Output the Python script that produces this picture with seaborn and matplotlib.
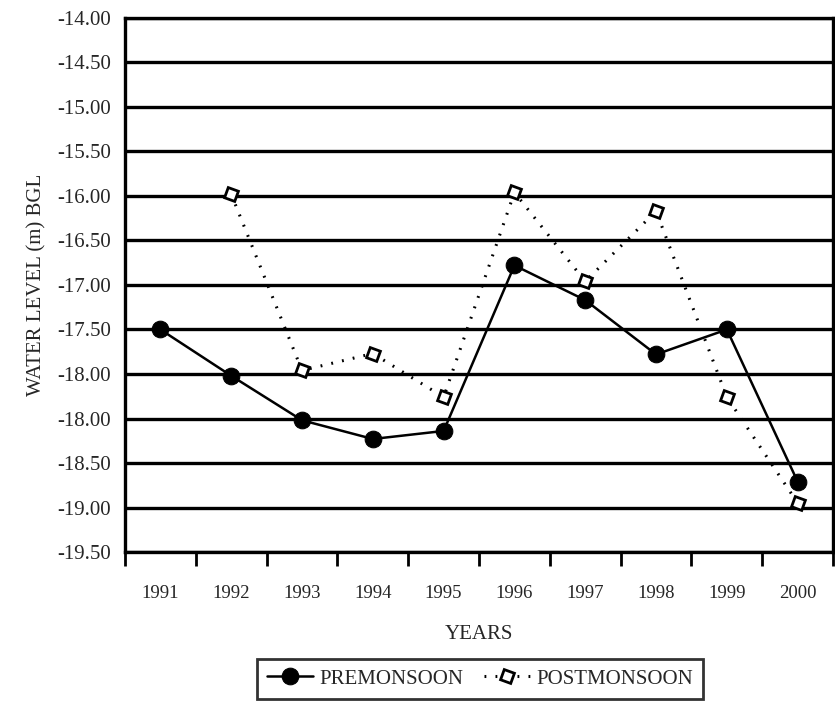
import numpy as np
import pandas as pd
import seaborn as sns
import matplotlib.pyplot as plt

# values (linear scale, -14 at top, -20 at the bottom axis line)
years = [1991, 1992, 1993, 1994, 1995, 1996, 1997, 1998, 1999, 2000]
premonsoon = [-17.50, -18.02, -18.52, -18.73, -18.64, -16.78, -17.17, -17.78, -17.50, -19.21]
postmonsoon = [np.nan, -15.98, -17.96, -17.77, -18.26, -15.96, -16.96, -16.17, -18.26, -19.45]

# printed tick labels (the original repeats -18.00)
ytick_pos = [-14.0, -14.5, -15.0, -15.5, -16.0, -16.5, -17.0, -17.5, -18.0, -18.5, -19.0, -19.5, -20.0]
ytick_labels = ['-14.00', '-14.50', '-15.00', '-15.50', '-16.00', '-16.50', '-17.00',
                '-17.50', '-18.00', '-18.00', '-18.50', '-19.00', '-19.50']


def main():
    sns.set_theme(style='white')
    plt.rcParams['font.family'] = ['Liberation Serif', 'DejaVu Serif']

    df = pd.DataFrame({
        'YEAR': years * 2,
        'LEVEL': premonsoon + postmonsoon,
        'SEASON': ['PREMONSOON'] * len(years) + ['POSTMONSOON'] * len(years),
    })

    fig = plt.figure(figsize=(8.35, 7.05), dpi=100)
    ax = fig.add_axes([0.1497, 0.217, 0.848, 0.7575])

    for y in ytick_pos:
        ax.axhline(y, color='black', lw=2.4, zorder=1)

    pre = df[df.SEASON == 'PREMONSOON']
    post = df[df.SEASON == 'POSTMONSOON'].dropna()
    sns.lineplot(data=pre, x='YEAR', y='LEVEL', ax=ax, color='black', lw=1.8,
                 marker='o', markersize=12, markeredgecolor='black',
                 label='PREMONSOON', zorder=3)
    sns.lineplot(data=post, x='YEAR', y='LEVEL', ax=ax, color='black', lw=2.2,
                 linestyle=(0, (0.6, 3.0)), marker=(4, 0, 25), markersize=11,
                 markerfacecolor='white', markeredgecolor='black', markeredgewidth=2,
                 label='POSTMONSOON', zorder=3)

    ax.set_xlim(1990.5, 2000.5)
    ax.set_ylim(-20.0, -14.0)
    ax.set_yticks(ytick_pos)
    ax.set_yticklabels(ytick_labels, fontsize=15)
    ax.set_xticks(years)
    ax.set_xticklabels([str(y) for y in years], fontsize=13.5)
    ax.set_xticks(np.arange(1990.5, 2001, 1.0), minor=True)
    ax.tick_params(axis='x', which='major', bottom=True, length=0, pad=24)
    ax.tick_params(axis='x', which='minor', bottom=True, length=10, width=2,
                   color='black', direction='out')
    ax.tick_params(axis='y', length=0, pad=10)

    for side in ['left', 'bottom', 'top', 'right']:
        ax.spines[side].set_visible(True)
        ax.spines[side].set_color('black')
        ax.spines[side].set_linewidth(2.4)

    ax.set_xlabel('YEARS', fontsize=15, labelpad=16)
    ax.set_ylabel('WATER LEVEL (m) BGL', fontsize=15, labelpad=8)

    handles, labels = ax.get_legend_handles_labels()
    ax.get_legend().remove()
    leg = fig.legend(handles, labels, loc='center', bbox_to_anchor=(0.575, 0.037), ncol=2,
                     fontsize=15, frameon=True, fancybox=False, edgecolor='black',
                     handlelength=2.2, columnspacing=1.0, handletextpad=0.3,
                     borderpad=0.5)
    leg.get_frame().set_linewidth(2)

    fig.savefig('out.png', dpi=100, facecolor='white')


if __name__ == '__main__':
    main()
